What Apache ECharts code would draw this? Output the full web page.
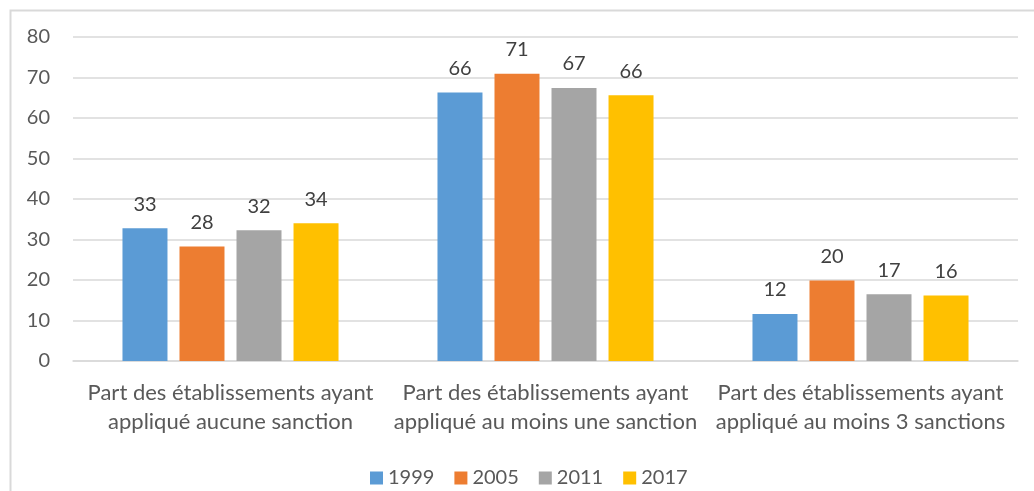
<!DOCTYPE html>
<html>
<head>
<meta charset="utf-8">
<script src="https://cdn.jsdelivr.net/npm/echarts@6/dist/echarts.min.js"></script>
<style>
  html, body { margin: 0; padding: 0; background: #fff; }
  #chart { width: 1034px; height: 491px; }
</style>
</head>
<body>
<div id="chart"></div>
<script>
const categories = [
  "Part des établissements ayant\nappliqué aucune sanction",
  "Part des établissements ayant\nappliqué au moins une sanction",
  "Part des établissements ayant\nappliqué au moins 3 sanctions"
];
const years = ["1999", "2005", "2011", "2017"];
const values1999 = [32.8, 66.3, 11.6];
const values2005 = [28.3, 70.9, 19.9];
const values2011 = [32.3, 67.4, 16.5];
const values2017 = [34.0, 65.6, 16.2];
const colors = ["#5B9BD5", "#ED7D31", "#A5A5A5", "#FFC000"];

const font = "Lato, 'Open Sans', sans-serif";
const allValues = [values1999, values2005, values2011, values2017];

const chart = echarts.init(document.getElementById("chart"));

const series = years.map((y, i) => ({
  name: y,
  type: "bar",
  data: allValues[i],
  barWidth: 45,
  barGap: "26.7%",
  itemStyle: { color: colors[i] },
  label: {
    show: true,
    position: "top",
    distance: 14,
    color: "#404040",
    fontSize: 20,
    fontFamily: font,
    formatter: p => Math.round(p.value)
  }
}));

chart.setOption({
  animation: false,
  color: colors,
  graphic: [{
    type: "rect",
    left: 8,
    top: 8,
    shape: { width: 1100, height: 600 },
    style: { fill: "none", stroke: "#D9D9D9", lineWidth: 2 },
    silent: true
  }],
  grid: { left: 73, right: 16, top: 37, bottom: 130 },
  legend: {
    data: years,
    left: 365,
    top: 463,
    icon: "rect",
    itemWidth: 13,
    itemHeight: 13,
    itemGap: 20,
    textStyle: { color: "#595959", fontSize: 20, fontFamily: font }
  },
  xAxis: {
    type: "category",
    data: categories,
    axisLine: { lineStyle: { color: "#D9D9D9", width: 1.5 } },
    axisTick: { show: false },
    axisLabel: {
      interval: 0,
      color: "#595959",
      fontSize: 22,
      lineHeight: 29,
      margin: 17,
      fontFamily: font
    }
  },
  yAxis: {
    type: "value",
    min: 0,
    max: 80,
    interval: 10,
    axisLine: { show: false },
    axisTick: { show: false },
    splitLine: { lineStyle: { color: "#D9D9D9", width: 1.5 } },
    axisLabel: { color: "#595959", fontSize: 20, margin: 23, fontFamily: font }
  },
  series: series
});
</script>
</body>
</html>
